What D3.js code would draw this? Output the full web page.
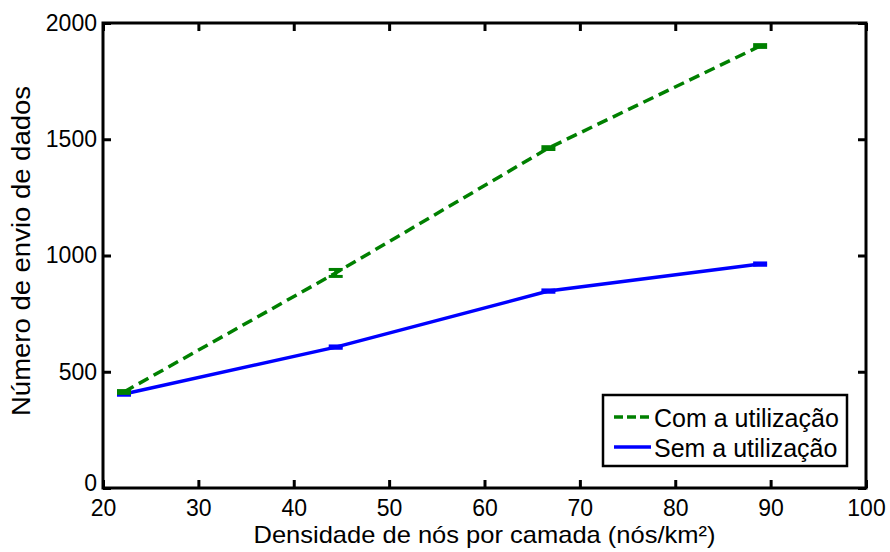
<!DOCTYPE html>
<html><head><meta charset="utf-8">
<script src="https://cdn.jsdelivr.net/npm/d3@7"></script>
<style>body{margin:0;background:#fff}svg{display:block}text{font-family:"Liberation Sans",Arial,sans-serif;fill:#000}</style>
</head><body>
<svg id="c" width="890" height="552"></svg>
<script>
const density = [22.2, 44.4, 66.7, 88.9];
const comUtil = [413, 925, 1462, 1901];
const comErr = [6, 15, 6, 6];
const semUtil = [404, 606, 847, 963];
const semErr = [5, 5, 5, 5];
const xTicks = [20, 30, 40, 50, 60, 70, 80, 90, 100];
const yTicks = [0, 500, 1000, 1500, 2000];
const seriesNames = ["Com a utilização", "Sem a utilização"];
const xLabel = "Densidade de nós por camada (nós/km²)";
const yLabel = "Número de envio de dados";

const svg = d3.select("#c");
const L = 103, R = 866, T = 23, B = 488;
const x = d3.scaleLinear().domain([20, 100]).range([L, R]);
const y = d3.scaleLinear().domain([0, 2000]).range([B, T]);
const FS = 24, TFS = 23;

// axes
const gx = svg.append("g").attr("transform", `translate(0,${B})`)
  .call(d3.axisBottom(x).tickValues(xTicks).tickSize(-8).tickSizeOuter(0).tickPadding(12).tickFormat(d3.format("d")));
const gy = svg.append("g").attr("transform", `translate(${L},0)`)
  .call(d3.axisLeft(y).tickValues(yTicks).tickSize(-8).tickSizeOuter(0).tickPadding(6).tickFormat(d3.format("d")));
const gxt = svg.append("g").attr("transform", `translate(0,${T})`)
  .call(d3.axisTop(x).tickValues(xTicks).tickSize(-8).tickSizeOuter(0).tickFormat(""));
const gyr = svg.append("g").attr("transform", `translate(${R},0)`)
  .call(d3.axisRight(y).tickValues(yTicks).tickSize(-8).tickSizeOuter(0).tickFormat(""));
[gx, gy, gxt, gyr].forEach(g => {
  g.select(".domain").remove();
  g.selectAll("line").attr("stroke", "#000").attr("stroke-width", 3);
  g.selectAll("text").style("font-size", TFS + "px").attr("fill", "#000");
});
gy.selectAll("text").attr("dy", d => d === 0 ? "0.12em" : "0.32em");
gx.selectAll("text").attr("dy", "0.7em");

svg.append("rect").attr("x", L).attr("y", T).attr("width", R - L).attr("height", B - T)
  .attr("fill", "none").attr("stroke", "#000").attr("stroke-width", 3);

// lines
const colors = ["#008000", "#0000ff"];
const vals = [comUtil, semUtil];
const errs = [comErr, semErr];
const dashes = ["11,6", null];
const line = d3.line().x((d, i) => x(density[i])).y(d => y(d));
[1, 0].forEach(s => {
  svg.append("path").datum(vals[s]).attr("d", line).attr("fill", "none")
    .attr("stroke", colors[s]).attr("stroke-width", 3.5).attr("stroke-dasharray", dashes[s]);
  const eg = svg.append("g").attr("stroke", colors[s]).attr("stroke-width", 3);
  vals[s].forEach((v, i) => {
    const cx = x(density[i]), e = errs[s][i];
    eg.append("line").attr("x1", cx).attr("x2", cx).attr("y1", y(v - e)).attr("y2", y(v + e));
    eg.append("line").attr("x1", cx - 7).attr("x2", cx + 7).attr("y1", y(v - e)).attr("y2", y(v - e));
    eg.append("line").attr("x1", cx - 7).attr("x2", cx + 7).attr("y1", y(v + e)).attr("y2", y(v + e));
  });
});

// axis labels
svg.append("text").attr("x", (L + R) / 2).attr("y", 543)
  .attr("text-anchor", "middle").style("font-size", FS + "px")
  .attr("textLength", 462).attr("lengthAdjust", "spacingAndGlyphs").text(xLabel);
svg.append("text").attr("transform", `translate(30,251) rotate(-90)`)
  .attr("x", 0).attr("y", 0)
  .attr("text-anchor", "middle").style("font-size", 25 + "px")
  .attr("textLength", 330).attr("lengthAdjust", "spacingAndGlyphs").text(yLabel);

// legend
const lg = svg.append("g");
lg.append("rect").attr("x", 603).attr("y", 395).attr("width", 244).attr("height", 71)
  .attr("fill", "#fff").attr("stroke", "#000").attr("stroke-width", 2.5);
seriesNames.forEach((n, i) => {
  const ly = 417 + i * 30;
  lg.append("line").attr("x1", 614).attr("x2", 651).attr("y1", ly).attr("y2", ly)
    .attr("stroke", colors[i]).attr("stroke-width", 3.5).attr("stroke-dasharray", i === 0 ? "9,4" : null);
  lg.append("text").attr("x", 654).attr("y", ly + 10)
    .style("font-size", 25 + "px").text(n);
});
</script>
</body></html>
